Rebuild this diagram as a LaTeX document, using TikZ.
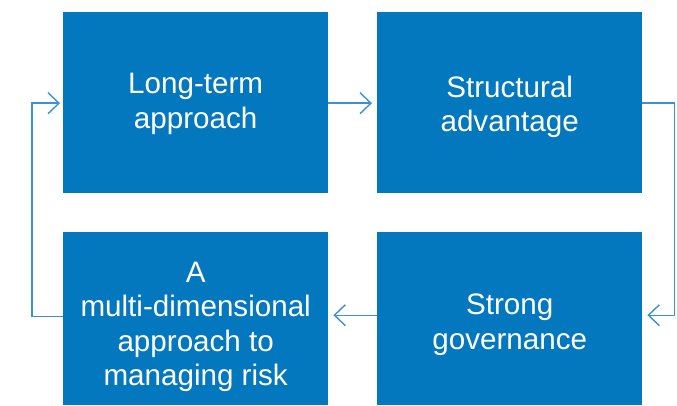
\documentclass[tikz,border=0pt]{standalone}
\usepackage{fontspec}
\setmainfont{Liberation Sans}
\usetikzlibrary{arrows.meta}
\definecolor{boxblue}{RGB}{3,120,190}
\definecolor{lineblue}{RGB}{60,145,210}
\begin{document}
\begin{tikzpicture}[x=1pt,y=-1pt,
  box/.style={fill=boxblue, draw=none, inner sep=0pt, anchor=north west,
    minimum width=265pt},
  txt/.style={text=white, align=center, inner sep=0pt,
    font=\fontsize{29.6}{34.5}\selectfont},
  conn/.style={draw=lineblue, line width=1.4pt,
    -{Straight Barb[length=11pt,width=21pt,line width=1.4pt]}, shorten >=5pt}]
\useasboundingbox (0,0) rectangle (677,406);
\node[box, minimum height=181pt] (A) at (63,12) {};
\node[box, minimum height=181pt] (B) at (377,12) {};
\node[box, minimum height=173pt] (C) at (63,232) {};
\node[box, minimum height=173pt] (D) at (377,232) {};
\node[txt] (tA) at ([yshift=-1pt]A.center) {Long-term\\approach};
\node[txt] (tB) at ([yshift=-4pt]B.center) {Structural\\advantage};
\node[txt] (tC) at ([yshift=-8pt]C.center) {A\\multi-dimensional\\approach to\\managing risk};
\node[txt] (tD) at ([yshift=-6pt]D.center) {Strong\\governance};
\coordinate (Bout) at ([yshift=-0.5pt]B.east);
\coordinate (Din) at ([yshift=3.5pt]D.east);
\coordinate (Dout) at ([yshift=3.5pt]D.west);
\coordinate (Cout) at ([yshift=2.5pt]C.west);
\coordinate (Ain) at ([yshift=-0.5pt]A.west);
\draw[conn] ([yshift=-0.5pt]A.east) -- ([yshift=-0.5pt]B.west);
\draw[conn] (Bout) -- ++(32,0) |- (Din);
\draw[conn] (Dout) -- (Dout -| C.east);
\draw[conn, shorten >=3pt] (Cout) -- ++(-31,0) |- (Ain);
\end{tikzpicture}
\end{document}
